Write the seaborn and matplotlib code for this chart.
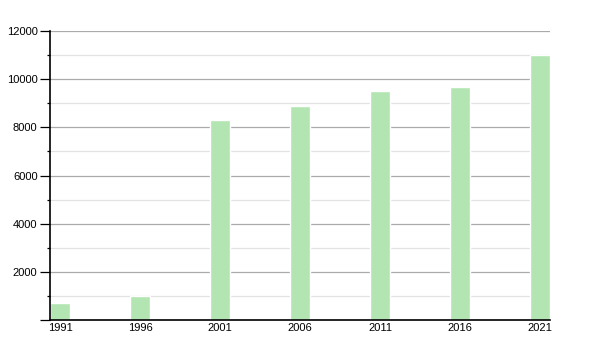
import matplotlib
matplotlib.use("Agg")
import matplotlib.pyplot as plt
import seaborn as sns
import pandas as pd
from matplotlib.ticker import MultipleLocator

years = ["1991", "1996", "2001", "2006", "2011", "2016", "2021"]
population = [720, 1000, 8300, 8880, 9500, 9690, 11000]

sns.set_style("white")
plt.rcParams["font.family"] = ["Liberation Sans", "DejaVu Sans"]

fig = plt.figure(figsize=(6, 3.5), dpi=100)
ax = fig.add_axes([50/600, 30/350, 500/600, 289/350])

df = pd.DataFrame({"year": years, "pop": population})
sns.barplot(data=df, x="year", y="pop", color="#b3e5b3", saturation=1,
            width=0.25, ax=ax, zorder=3)

ax.set_xlim(-0.125, 6.125)
ax.set_ylim(0, 12000)
ax.yaxis.set_major_locator(MultipleLocator(2000))
ax.yaxis.set_minor_locator(MultipleLocator(1000))
ax.grid(which="major", axis="y", color="#aaaaaa", linewidth=0.9, zorder=0)
ax.grid(which="minor", axis="y", color="#e2e2e2", linewidth=0.9, zorder=0)
ax.set_axisbelow(True)

for s in ["top", "right"]:
    ax.spines[s].set_visible(False)
for s in ["left", "bottom"]:
    ax.spines[s].set_color("black")
    ax.spines[s].set_linewidth(1.2)
    ax.spines[s].set_zorder(4)

ax.set_xlabel("")
ax.set_ylabel("")
ax.tick_params(axis="x", length=0, pad=2, labelsize=8, colors="black")
ax.tick_params(axis="y", which="major", left=True, length=7.5, width=0.9,
               pad=1.5, labelsize=8, colors="black")
ax.tick_params(axis="y", which="minor", left=True, length=2, width=0.9, colors="black")

labels = [str(v) if v > 0 else "" for v in range(0, 12001, 2000)]
ax.set_yticks(range(0, 12001, 2000))
ax.set_yticklabels(labels)

fig.savefig("out.png", dpi=100)
